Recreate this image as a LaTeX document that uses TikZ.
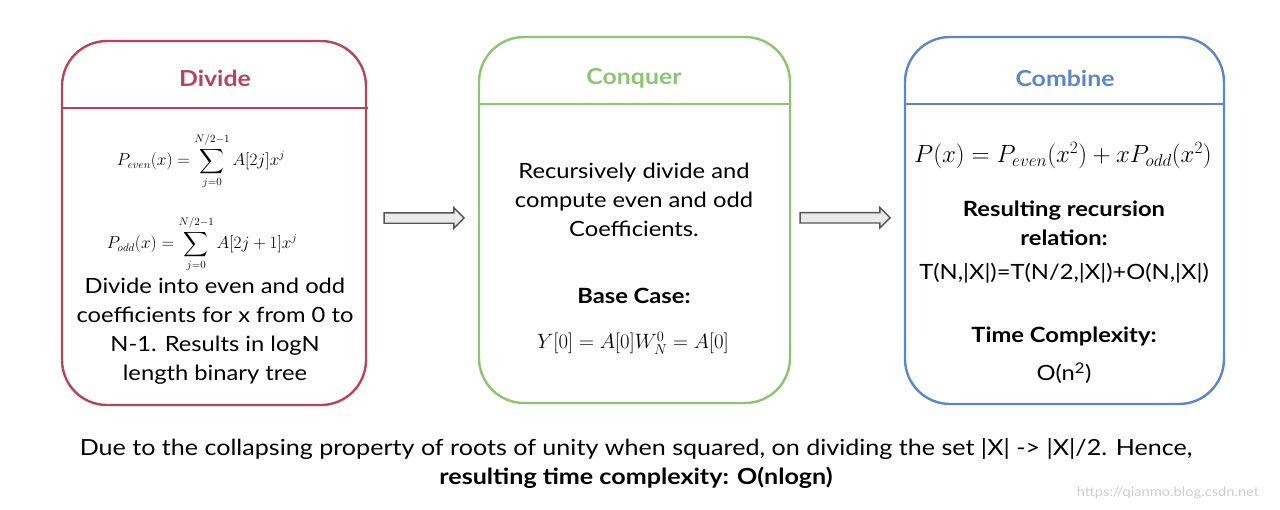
\documentclass[tikz,border=0pt]{standalone}
\usepackage{fontspec}
\usepackage{amsmath}
\setmainfont{Lato}[FakeStretch=1.13]
\usetikzlibrary{calc, shapes, positioning, arrows.meta}
\definecolor{divred}{RGB}{180,70,92}
\definecolor{congreen}{RGB}{140,196,112}
\definecolor{comblue}{RGB}{92,134,198}
\definecolor{arrowfill}{RGB}{234,234,234}
\definecolor{arrowline}{RGB}{85,85,85}
\definecolor{stamp}{RGB}{205,205,205}

\begin{document}
\begin{tikzpicture}[x=1pt,y=-1pt,
    stage/.style={draw=#1, line width=2.4pt, rounded corners=45pt, inner sep=0pt},
    title/.style={text=#1, font=\fontsize{22}{26}\selectfont\bfseries},
    body/.style={align=center, font=\fontsize{21}{29}\selectfont},
    bold/.style={align=center, font=\fontsize{21}{29}\selectfont\bfseries},
    blockarrow/.style={single arrow, draw=arrowline, fill=arrowfill, line width=1.4pt,
        inner xsep=0pt, inner ysep=4.5pt, single arrow head extend=5pt,
        single arrow head indent=0pt, minimum height=#1}]
    \useasboundingbox (0,0) rectangle (1280,509);

    % Divide
    \node[stage=divred, minimum width=304pt, minimum height=364pt] (divide) at (214,223) {};
    \draw[divred, line width=2.4pt] (62,108) -- (368,108);
    \node[title=divred] (divtitle) at (215,78) {Divide};
    \node[font=\fontsize{16}{18}\selectfont, inner sep=0pt] (peven) at (201,161)
        {$\displaystyle P_{even}(x) = \sum_{j=0}^{N/2-1} A[2j]x^j$};
    \node[font=\fontsize{16}{18}\selectfont, inner sep=0pt] (podd) at (202,244)
        {$\displaystyle P_{odd}(x) = \sum_{j=0}^{N/2-1} A[2j+1]x^j$};
    \node[body] (divtext) at (215,331) {Divide into even and odd\\coefficients for x from 0 to\\N-1. Results in logN\\length binary tree};

    % Conquer
    \node[stage=congreen, minimum width=311pt, minimum height=366pt] (conquer) at (634.5,220) {};
    \draw[congreen, line width=2.4pt] (479,104) -- (790,104);
    \node[title=congreen] (contitle) at (634,78) {Conquer};
    \node[body] (context) at (634,200) {Recursively divide and\\compute even and odd\\Coefficients.};
    \node[bold] (basecase) at (634,296) {Base Case:};
    \node[font=\fontsize{22}{24}\selectfont] (baseeq) at (633,343) {$Y[0] = A[0]W_N^0 = A[0]$};

    % Combine
    \node[stage=comblue, minimum width=319pt, minimum height=367pt] (combine) at (1064.5,220.5) {};
    \draw[comblue, line width=2.4pt] (905,104) -- (1224,104);
    \node[title=comblue] (comtitle) at (1065,78) {Combine};
    \node[font=\fontsize{24}{26}\selectfont] (combeq) at (1063,156) {$P(x) = P_{even}(x^2) + xP_{odd}(x^2)$};
    \node[bold] (recur) at (1064,223) {Resulting recursion\\relation:};
    \node[body] (recureq) at (1064,273) {T(N,|X|)=T(N/2,|X|)+O(N,|X|)};
    \node[bold] (timecx) at (1064,336) {Time Complexity:};
    \node[body] (order) at (1064,373) {O(n\textsuperscript{2})};

    % arrows between stages
    \node[blockarrow=80pt] (arrowa) at ($(divide.east)!0.5!(conquer.west)+(-1,-3.5)$) {};
    \node[blockarrow=90pt] (arrowb) at ($(conquer.east)!0.5!(combine.west)+(-5,-2.5)$) {};

    % footer
    \node[body, font=\fontsize{22.2}{29}\selectfont] (footer) at (636,463) {Due to the collapsing property of roots of unity when squared, on dividing the set |X| -> |X|/2. Hence,\\\textbf{resulting time complexity: O(nlogn)}};
    \node[text=stamp, font=\fontsize{13}{15}\selectfont] (stampurl) at (1168,493) {https://qianmo.blog.csdn.net};
\end{tikzpicture}
\end{document}
